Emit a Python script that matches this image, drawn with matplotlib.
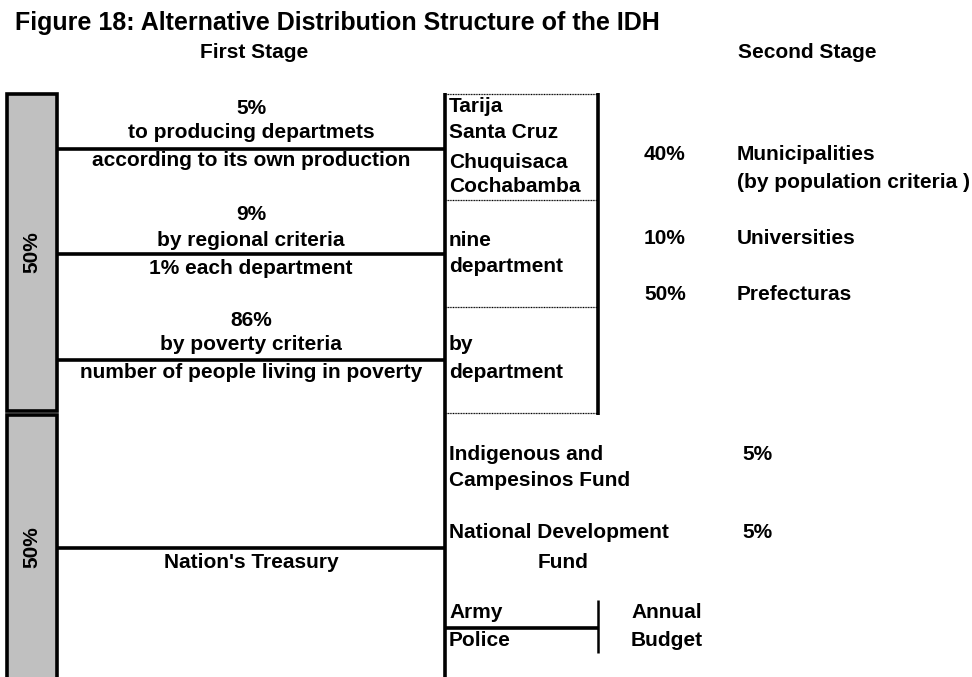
import matplotlib.pyplot as plt
from matplotlib.patches import Rectangle

plt.rcParams['font.family'] = ['Liberation Sans', 'DejaVu Sans']

# Texts of the diagram
title = "Figure 18: Alternative Distribution Structure of the IDH"
stage_labels = ["First Stage", "Second Stage"]
half_shares = ["50%", "50%"]

first_stage_lines = ["5%", "to producing departmets", "according to its own production",
                     "9%", "by regional criteria", "1% each department",
                     "86%", "by poverty criteria", "number of people living in poverty"]
first_stage_y = [109, 133, 161, 215, 240, 268, 320, 345, 373]

recipient_lines = ["Tarija", "Santa Cruz", "Chuquisaca", "Cochabamba",
                   "nine", "department", "by", "department"]
recipient_y = [107, 133, 162, 187, 240, 267, 345, 373]

second_pcts = ["40%", "10%", "50%"]
second_names = [["Municipalities", "(by population criteria )"], ["Universities"], ["Prefecturas"]]
second_y = [155, 238, 295]

fund_names = [["Indigenous and", "Campesinos Fund"], ["National Development"]]
fund_pcts = ["5%", "5%"]
fund_y = [455, 533]

treasury = "Nation's Treasury"
budget_items = ["Army", "Police"]
budget_label = ["Annual", "Budget"]
budget_y = [613, 640]

W, H = 972, 677
fig = plt.figure(figsize=(W / 100, H / 100), dpi=100)
ax = fig.add_axes([0, 0, 1, 1])
ax.set_xlim(0, W)
ax.set_ylim(H, 0)
ax.axis('off')

fs = 15
lw = 2.6
kw = dict(fontsize=fs, fontweight='bold', va='center')

ax.text(15, 23, title, fontsize=18, fontweight='bold', va='center', ha='left')
ax.text(254, 53, stage_labels[0], ha='center', **kw)
ax.text(807, 53, stage_labels[1], ha='center', **kw)

# gray boxes with the 50% labels
for (y0, y1), lab, ly in zip([(94, 411), (415, 690)], half_shares, [252, 547]):
    ax.add_patch(Rectangle((6.5, y0), 50, y1 - y0, facecolor='#c0c0c0',
                           edgecolor='black', lw=lw))
    ax.text(32, ly, lab, rotation=90, ha='center', **kw)

# first stage lines
for y in [148.5, 254, 359.5, 548]:
    ax.plot([57, 445], [y, y], color='black', lw=lw, solid_capstyle='butt')
ax.plot([445, 445], [92.5, 690], color='black', lw=lw, solid_capstyle='butt')

for s, y in zip(first_stage_lines, first_stage_y):
    ax.text(251, y, s, ha='center', **kw)
ax.text(251, 562, treasury, ha='center', **kw)

# dotted recipient box
for y in [94, 200, 307, 413]:
    ax.plot([446, 597], [y, y], color='black', lw=0.9, ls=(0, (0.8, 0.5)))
ax.plot([598, 598], [92.5, 415], color='black', lw=lw, solid_capstyle='butt')

for s, y in zip(recipient_lines, recipient_y):
    ax.text(449, y, s, ha='left', **kw)

# second stage shares
for p, names, y in zip(second_pcts, second_names, second_y):
    ax.text(644, y, p, ha='left', **kw)
    for i, n in enumerate(names):
        ax.text(737, y + 28 * i, n, ha='left', **kw)

# funds
for names, p, y in zip(fund_names, fund_pcts, fund_y):
    for i, n in enumerate(names):
        ax.text(449, y + 26 * i, n, ha='left', **kw)
    ax.text(742, y, p, ha='left', **kw)
ax.text(563, 562, "Fund", ha='center', **kw)

# army / police budget
ax.plot([445, 598], [628, 628], color='black', lw=lw, solid_capstyle='butt')
ax.plot([598, 598], [600, 653], color='black', lw=1.8, solid_capstyle='butt')
for s, b, y in zip(budget_items, budget_label, budget_y):
    ax.text(449, y, s, ha='left', **kw)
    ax.text(667, y, b, ha='center', **kw)

fig.savefig('out.png', dpi=100)
